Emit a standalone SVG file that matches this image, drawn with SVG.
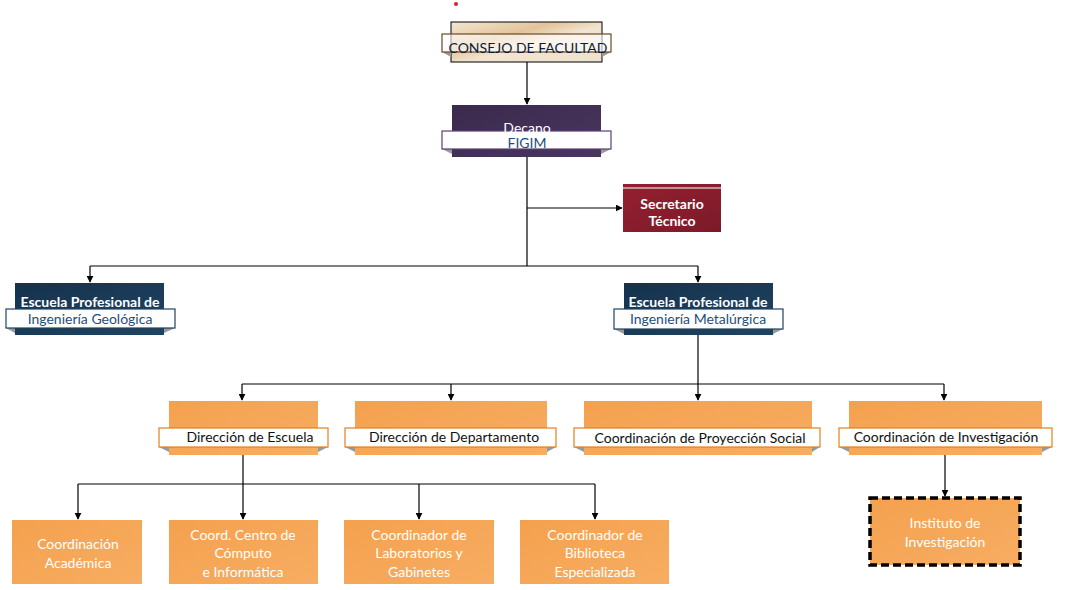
<svg xmlns="http://www.w3.org/2000/svg" width="1081" height="590" viewBox="0 0 1081 590">
<defs>
<linearGradient id="gBeige" x1="0" y1="0" x2="1" y2="1"><stop offset="0" stop-color="#f3e6d3"/><stop offset="0.35" stop-color="#e2c49a"/><stop offset="0.55" stop-color="#f2e4d0"/><stop offset="1" stop-color="#efe2cd"/></linearGradient>
<linearGradient id="gPurple" x1="0" y1="0" x2="1" y2="1"><stop offset="0" stop-color="#3a2a4c"/><stop offset="1" stop-color="#4a3660"/></linearGradient>
<linearGradient id="gRed" x1="0" y1="0" x2="1" y2="1"><stop offset="0" stop-color="#93202f"/><stop offset="1" stop-color="#7c1a2a"/></linearGradient>
<linearGradient id="gNavy" x1="0" y1="0" x2="1" y2="1"><stop offset="0" stop-color="#16324c"/><stop offset="1" stop-color="#1f4462"/></linearGradient>
<linearGradient id="gOrange" x1="0" y1="0" x2="1" y2="1"><stop offset="0" stop-color="#f4a14e"/><stop offset="1" stop-color="#f7ad62"/></linearGradient>
<marker id="arr" viewBox="0 0 10 10" refX="9" refY="5" markerWidth="7" markerHeight="7" markerUnits="userSpaceOnUse" orient="auto"><path d="M0,0 L10,5 L0,10 z" fill="#000"/></marker>
</defs>
<style>
.c{stroke:#000;stroke-width:1.2;fill:none}
.a{marker-end:url(#arr)}
.t{font-family:Lato,"Liberation Sans",Arial,sans-serif;font-size:14px;text-anchor:middle}
.w{fill:#fff}
.wb{fill:#fff;font-weight:bold}
.b{fill:#1f4e79}
.k{fill:#111}
.bo{fill:#fff;stroke:#e0801e;stroke-width:1.2}
.tail{fill:#9a9a9a}
.ob{fill:url(#gOrange)}
</style>
<circle cx="456" cy="4" r="2" fill="#e02020"/>
<g id="connectors">
<path class="c a" d="M527,62 V104"/>
<path class="c" d="M527,157 V266"/>
<path class="c a" d="M527,208 H622"/>
<path class="c" d="M90,266 H698"/>
<path class="c a" d="M90,266 V282"/>
<path class="c a" d="M698,266 V282"/>
<path class="c" d="M698,335 V384"/>
<path class="c" d="M242,384 H944"/>
<path class="c a" d="M242,384 V400"/>
<path class="c a" d="M451,384 V400"/>
<path class="c a" d="M698,384 V400"/>
<path class="c a" d="M944,384 V400"/>
<path class="c" d="M243,455 V484"/>
<path class="c" d="M78,484 H595"/>
<path class="c a" d="M78,484 V519"/>
<path class="c a" d="M243,484 V519"/>
<path class="c a" d="M419,484 V519"/>
<path class="c a" d="M595,484 V519"/>
<path class="c a" d="M945,455 V496"/>
</g>
<g id="consejo">
<rect x="451" y="22" width="151" height="40" fill="url(#gBeige)" stroke="#000" stroke-width="1"/>
<path class="tail" d="M442,52 L451,52 L451,57 z M611,52 L602,52 L602,57 z"/>
<rect x="442" y="34" width="169" height="18" fill="#fff" fill-opacity="0.6" stroke="#6b4a22" stroke-width="1.2"/>
<text class="t" x="528" y="53" fill="#0d1b3a" font-size="14.5">CONSEJO DE FACULTAD</text>
</g>
<g id="decano">
<rect x="452" y="105" width="149" height="52" fill="url(#gPurple)"/>
<path class="tail" d="M442,149 L452,149 L452,154 z M611,149 L601,149 L601,154 z"/>
<rect x="442" y="131" width="169" height="18" fill="#fff" stroke="#5a3f78" stroke-width="1.2"/>
<text class="t w" x="527" y="133">Decano</text>
<text class="t b" x="527" y="148">FIGIM</text>
</g>
<g id="secretario">
<rect x="623" y="184" width="98" height="48" fill="url(#gRed)"/>
<line x1="623" y1="188" x2="721" y2="188" stroke="#fff" stroke-width="1.2"/>
<text class="t wb" x="672" y="209">Secretario</text>
<text class="t wb" x="672" y="226">Técnico</text>
</g>
<g id="escuela-geologica">
<rect x="15" y="283" width="149" height="52" fill="url(#gNavy)"/>
<path class="tail" d="M6,328 L15,328 L15,333 z M175,328 L164,328 L164,333 z"/>
<rect x="6" y="309" width="169" height="19" fill="#fff" stroke="#1f4462" stroke-width="1.2"/>
<text class="t wb" x="90" y="307">Escuela Profesional de</text>
<text class="t b" x="90" y="324">Ingeniería Geológica</text>
</g>
<g id="escuela-metalurgica">
<rect x="624" y="283" width="149" height="52" fill="url(#gNavy)"/>
<path class="tail" d="M614,329 L624,329 L624,334 z M783,329 L773,329 L773,334 z"/>
<rect x="614" y="309" width="169" height="20" fill="#fff" stroke="#1f4462" stroke-width="1.2"/>
<text class="t wb" x="698" y="307">Escuela Profesional de</text>
<text class="t b" x="698" y="324">Ingeniería Metalúrgica</text>
</g>
<g id="direccion-escuela">
<rect class="ob" x="169" y="401" width="149" height="54"/>
<path class="tail" d="M159,447 L169,447 L169,452 z M328,447 L318,447 L318,452 z"/>
<rect class="bo" x="159" y="428" width="169" height="19"/>
<text class="t k" x="250" y="442">Dirección de Escuela</text>
</g>
<g id="direccion-departamento">
<rect class="ob" x="355" y="401" width="192" height="54"/>
<path class="tail" d="M345,447 L355,447 L355,452 z M556,447 L547,447 L547,452 z"/>
<rect class="bo" x="345" y="428" width="211" height="19"/>
<text class="t k" x="454" y="442">Dirección de Departamento</text>
</g>
<g id="proyeccion-social">
<rect class="ob" x="584" y="401" width="228" height="54"/>
<path class="tail" d="M574,447 L584,447 L584,452 z M820,447 L812,447 L812,452 z"/>
<rect class="bo" x="574" y="428" width="246" height="19"/>
<text class="t k" x="700" y="443">Coordinación de Proyección Social</text>
</g>
<g id="coord-investigacion">
<rect class="ob" x="849" y="401" width="193" height="54"/>
<path class="tail" d="M839,447 L849,447 L849,452 z M1052,447 L1042,447 L1042,452 z"/>
<rect class="bo" x="839" y="428" width="213" height="19"/>
<text class="t k" x="946" y="442">Coordinación de Investigación</text>
</g>
<g id="coord-academica">
<rect class="ob" x="12" y="520" width="130" height="64"/>
<text class="t w" x="78" y="549">Coordinación</text>
<text class="t w" x="78" y="568">Académica</text>
</g>
<g id="centro-computo">
<rect class="ob" x="169" y="520" width="149" height="64"/>
<text class="t w" x="243" y="540">Coord. Centro de</text>
<text class="t w" x="243" y="558">Cómputo</text>
<text class="t w" x="243" y="577">e Informática</text>
</g>
<g id="laboratorios">
<rect class="ob" x="344" y="520" width="150" height="64"/>
<text class="t w" x="419" y="540">Coordinador de</text>
<text class="t w" x="419" y="558">Laboratorios y</text>
<text class="t w" x="419" y="577">Gabinetes</text>
</g>
<g id="biblioteca">
<rect class="ob" x="520" y="520" width="149" height="64"/>
<text class="t w" x="595" y="540">Coordinador de</text>
<text class="t w" x="595" y="558">Biblioteca</text>
<text class="t w" x="595" y="577">Especializada</text>
</g>
<g id="instituto">
<rect class="ob" x="870" y="498" width="150" height="67" stroke="#000" stroke-width="3.5" stroke-dasharray="8,4"/>
<text class="t w" x="945" y="528">Instituto de</text>
<text class="t w" x="945" y="547">Investigación</text>
</g>
</svg>
